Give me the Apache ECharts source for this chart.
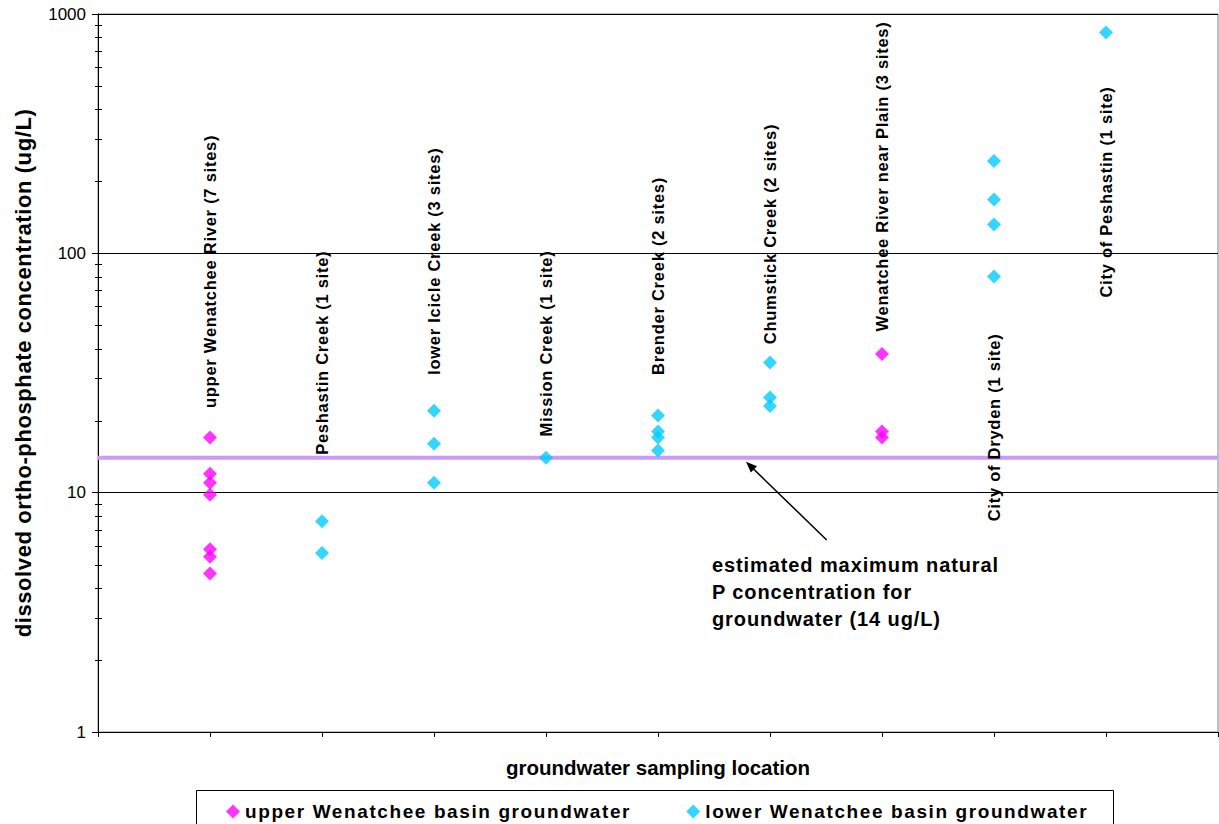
<!DOCTYPE html>
<html>
<head>
<meta charset="utf-8">
<script src="https://cdn.jsdelivr.net/npm/echarts@6/dist/echarts.min.js"></script>
<style>
  html, body { margin: 0; padding: 0; background: #fff; }
  #chart { width: 1219px; height: 824px; }
  /* widen the bold captions a little, per caption group (keyed on weight) */
  #chart text[style*="600"] { letter-spacing: 0.75px; }
  #chart text[style*="700"] { letter-spacing: 0.6px; }
  #chart text[style*="800"] { letter-spacing: 0.9px; }
  #chart text[style*="900"] { letter-spacing: 1.6px; }
</style>
</head>
<body>
<div id="chart"></div>
<script>
// Sampling locations, left to right
const sites = [
  'upper Wenatchee River (7 sites)',
  'Peshastin Creek (1 site)',
  'lower Icicle Creek (3 sites)',
  'Mission Creek (1 site)',
  'Brender Creek (2 sites)',
  'Chumstick Creek (2 sites)',
  'Wenatchee River near Plain (3 sites)',
  'City of Dryden (1 site)',
  'City of Peshastin (1 site)'
];

// Dissolved ortho-phosphate results (ug/L), one list per location
const upperBasin = [
  [17, 12, 11, 9.8, 5.8, 5.4, 4.6],
  [], [], [], [], [],
  [38, 18, 17],
  [], []
];
const lowerBasin = [
  [],
  [7.6, 5.6],
  [22, 16, 11],
  [14],
  [21, 18, 17, 15],
  [35, 25, 23],
  [],
  [243, 168, 132, 80],
  [837]
];

// Estimated maximum natural P concentration for groundwater (ug/L)
const naturalMaxP = 14;

// Logarithmic axis: labelled decades and the minor ticks between them
const yTickLabels = [1, 10, 100, 1000];
const minorTicks = [2, 3, 4, 5, 6, 7, 8, 9, 20, 30, 40, 50, 60, 70, 80, 90, 200, 300, 400, 500, 600, 700, 800, 900];

// ---- layout / style ----
const FONT = '"Liberation Sans", Arial, Helvetica, sans-serif';
const PINK = '#FF00FF';
const CYAN = '#00CCFF';
// where each vertical site caption begins (in ug/L on the log axis)
const captionBase = [22.9, 14.6, 31.5, 17.4, 31.5, 42.3, 47.8, 7.7, 66.3];

function toPoints(groups) {
  const pts = [];
  groups.forEach((vals, i) => vals.forEach(v => pts.push([i + 1, v])));
  return pts;
}

const chart = echarts.init(document.getElementById('chart'), null, { renderer: 'svg' });

const option = {
  animation: false,
  backgroundColor: '#fff',
  textStyle: { fontFamily: FONT },
  grid: {
    left: 98, right: 1, top: 14, bottom: 92,
    show: true, borderColor: '#808080', borderWidth: 1, backgroundColor: '#fff'
  },
  xAxis: {
    type: 'value', min: 0, max: sites.length + 1, interval: 1,
    name: 'groundwater sampling location',
    nameLocation: 'middle', nameGap: 25,
    nameTextStyle: { fontSize: 20.5, fontWeight: 'bold', color: '#000', fontFamily: FONT },
    axisLine: { lineStyle: { color: '#000', width: 1 } },
    axisTick: { show: true, inside: false, length: 5, lineStyle: { color: '#000' } },
    axisLabel: { show: false },
    splitLine: { show: false }
  },
  yAxis: {
    type: 'log', logBase: 10,
    min: yTickLabels[0], max: yTickLabels[yTickLabels.length - 1],
    name: 'dissolved ortho-phosphate concentration (ug/L)',
    nameLocation: 'middle', nameGap: 64,
    nameTextStyle: { fontSize: 22, fontWeight: 700, color: '#000', fontFamily: FONT },
    axisLine: { show: true, lineStyle: { color: '#000', width: 1 } },
    axisTick: { show: true, inside: false, length: 6, lineStyle: { color: '#000' } },
    axisLabel: {
      color: '#000', fontSize: 17, margin: 12, fontFamily: FONT,
      formatter: v => String(Math.round(v))
    },
    splitLine: { show: true, lineStyle: { color: '#000', width: 1 } }
  },
  legend: {
    data: ['upper Wenatchee basin groundwater', 'lower Wenatchee basin groundwater'],
    left: 226, top: 802, padding: 0,
    icon: 'diamond', itemWidth: 14, itemHeight: 14, itemGap: 108,
    textStyle: { fontSize: 19, fontWeight: 900, color: '#000', fontFamily: FONT },
    selectedMode: false
  },
  graphic: [
    {
      type: 'rect', z: 0, silent: true,
      shape: { x: 196.5, y: 790.5, width: 917, height: 60 },
      style: { fill: '#fff', stroke: '#000', lineWidth: 1 }
    },
    {
      type: 'text', z: 10, silent: true,
      x: 712, y: 551,
      style: {
        text: 'estimated maximum natural\nP concentration for\ngroundwater (' + naturalMaxP + ' ug/L)',
        fontSize: 20, fontWeight: 800, fontFamily: FONT, fill: '#000',
        lineHeight: 27.2, align: 'left', verticalAlign: 'top'
      }
    },
    {
      type: 'line', z: 10, silent: true,
      shape: { x1: 826.7, y1: 540, x2: 752, y2: 467.5 },
      style: { stroke: '#000', lineWidth: 1.5 }
    },
    {
      type: 'polygon', z: 10, silent: true,
      shape: { points: [[746, 461.7], [757.0, 466.2], [750.8, 472.6]] },
      style: { fill: '#000' }
    }
  ],
  series: [
    {
      // minor ticks on the log axis
      type: 'custom', silent: true, clip: false, z: 3,
      data: minorTicks.map(v => [0, v]),
      renderItem: (params, api) => {
        const p = api.coord([0, api.value(1)]);
        const y = Math.round(p[1]) + 0.5;
        return {
          type: 'line',
          shape: { x1: p[0] - 3, y1: y, x2: p[0] + 4, y2: y },
          style: { stroke: '#000', lineWidth: 1 }
        };
      }
    },
    {
      name: 'natural maximum',
      type: 'line', silent: true, z: 1,
      symbol: 'none',
      data: [[0, naturalMaxP], [sites.length + 1, naturalMaxP]],
      lineStyle: { color: '#CC99FF', width: 4 }
    },
    {
      name: 'upper Wenatchee basin groundwater',
      type: 'scatter', z: 4,
      symbol: 'diamond', symbolSize: 14,
      itemStyle: { color: PINK },
      data: toPoints(upperBasin)
    },
    {
      name: 'lower Wenatchee basin groundwater',
      type: 'scatter', z: 4,
      symbol: 'diamond', symbolSize: 14,
      itemStyle: { color: CYAN },
      data: toPoints(lowerBasin)
    },
    {
      name: 'site captions',
      type: 'scatter', silent: true, z: 6,
      symbol: 'circle', symbolSize: 1,
      itemStyle: { color: 'rgba(0,0,0,0)' },
      data: sites.map((s, i) => ({ name: s, value: [i + 1, captionBase[i]] })),
      label: {
        show: true, opacity: 1,
        formatter: p => p.name,
        position: 'inside', rotate: 90,
        align: 'left', verticalAlign: 'middle', offset: [-1.5, 0],
        fontSize: 16.5, fontWeight: 600, color: '#000', fontFamily: FONT
      }
    }
  ]
};

chart.setOption(option);
</script>
</body>
</html>
